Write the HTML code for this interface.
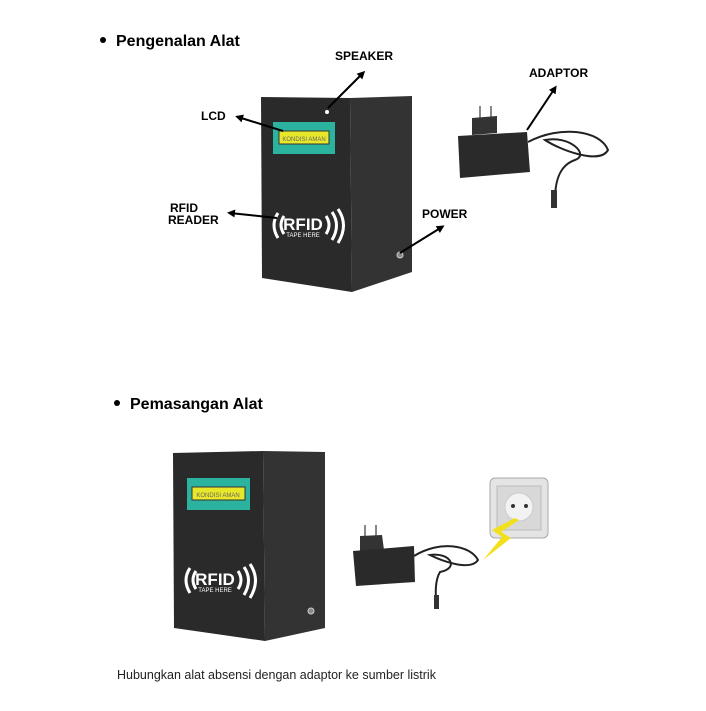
<!DOCTYPE html>
<html><head><style>
body{margin:0;background:#fff;width:706px;height:706px;overflow:hidden;font-family:"Liberation Sans",sans-serif;}
</style></head><body>
<svg width="706" height="706" xmlns="http://www.w3.org/2000/svg" font-family="Liberation Sans, sans-serif">
<defs><marker id="a" markerWidth="8" markerHeight="8" refX="5" refY="4" orient="auto" markerUnits="userSpaceOnUse"><path d="M0,0 L8,4 L0,8 z" fill="#000"/></marker></defs>
<circle cx="103" cy="40" r="3" fill="#000"/>
<text x="116" y="46" font-size="16" font-weight="bold">Pengenalan Alat</text>
<circle cx="117" cy="403" r="3" fill="#000"/>
<text x="130" y="409" font-size="16" font-weight="bold">Pemasangan Alat</text>
<text x="117" y="679" font-size="12.5" fill="#222">Hubungkan alat absensi dengan adaptor ke sumber listrik</text>

<!-- box 1 -->
<polygon points="261,97 350,98 352,292 262,278" fill="#2a2a2a"/>
<polygon points="350,98 412,96 412,272 352,292" fill="#333"/>
<rect x="273" y="122" width="62" height="32" fill="#2bb3a0"/>
<rect x="279" y="131" width="50" height="13" fill="#e8e82a" stroke="#333" stroke-width="1"/>
<text x="304" y="141" font-size="6" text-anchor="middle" fill="#666">KONDISI AMAN</text>
<circle cx="327" cy="112" r="2" fill="#fff"/>
<text x="303" y="230" font-size="17" font-weight="bold" fill="#fff" text-anchor="middle">RFID</text>
<text x="303" y="237" font-size="6" fill="#fff" text-anchor="middle">TAPE HERE</text>
<path d="M278,213 Q270,225 278,238 M284,216 Q278,225 284,234 M326,216 Q332,225 326,234 M332,212 Q341,225 332,240 M338,209 Q349,225 338,243" stroke="#fff" stroke-width="3" fill="none"/>
<circle cx="400" cy="255" r="3" fill="#888" stroke="#ccc"/>
<!-- arrows -->
<text x="335" y="60" font-size="12" font-weight="bold">SPEAKER</text>
<line x1="328" y1="108" x2="363" y2="73" stroke="#000" stroke-width="2" marker-end="url(#a)"/>
<text x="201" y="120" font-size="12" font-weight="bold">LCD</text>
<line x1="283" y1="131" x2="238" y2="117" stroke="#000" stroke-width="2" marker-end="url(#a)"/>
<text x="170" y="212" font-size="12" font-weight="bold">RFID</text>
<text x="168" y="224" font-size="12" font-weight="bold">READER</text>
<line x1="277" y1="218" x2="230" y2="213" stroke="#000" stroke-width="2" marker-end="url(#a)"/>
<text x="422" y="218" font-size="12" font-weight="bold">POWER</text>
<line x1="400" y1="253" x2="442" y2="227" stroke="#000" stroke-width="2" marker-end="url(#a)"/>
<text x="529" y="77" font-size="12" font-weight="bold">ADAPTOR</text>
<line x1="527" y1="130" x2="555" y2="88" stroke="#000" stroke-width="2" marker-end="url(#a)"/>
<!-- adaptor 1 -->
<rect x="479" y="106" width="2" height="12" fill="#888"/><rect x="490" y="106" width="2" height="12" fill="#888"/>
<polygon points="472,118 497,116 497,133 472,135" fill="#333"/>
<polygon points="458,136 527,132 530,172 460,178" fill="#2a2a2a"/>
<path d="M528,142 C560,125 600,130 608,150 C600,165 560,150 545,140 C570,135 590,155 575,160 C560,165 555,180 555,200" stroke="#222" stroke-width="2" fill="none"/>
<rect x="551" y="190" width="6" height="18" fill="#333"/>
<!-- box 2 -->
<polygon points="173,453 263,451 265,641 174,628" fill="#2a2a2a"/>
<polygon points="263,451 325,452 325,628 265,641" fill="#333"/>
<rect x="187" y="478" width="63" height="32" fill="#2bb3a0"/>
<rect x="192" y="487" width="53" height="13" fill="#e8e82a" stroke="#333"/>
<text x="218" y="497" font-size="6" text-anchor="middle" fill="#666">KONDISI AMAN</text>
<text x="215" y="585" font-size="17" font-weight="bold" fill="#fff" text-anchor="middle">RFID</text>
<text x="215" y="592" font-size="6" fill="#fff" text-anchor="middle">TAPE HERE</text>
<path d="M190,568 Q182,580 190,593 M196,571 Q190,580 196,589 M238,571 Q244,580 238,589 M244,567 Q253,580 244,595 M250,564 Q261,580 250,598" stroke="#fff" stroke-width="3" fill="none"/>
<circle cx="311" cy="611" r="3" fill="#888" stroke="#ccc"/>
<!-- adaptor 2 -->
<rect x="364" y="525" width="2" height="12" fill="#888"/><rect x="375" y="525" width="2" height="12" fill="#888"/>
<polygon points="360,536 382,535 384,550 360,551" fill="#333"/>
<polygon points="353,551 414,546 415,582 356,586" fill="#2a2a2a"/>
<path d="M414,556 C440,540 470,545 478,560 C470,572 440,560 430,555 C450,552 460,568 440,572 C435,580 435,595 437,605" stroke="#222" stroke-width="2" fill="none"/>
<rect x="434" y="595" width="5" height="14" fill="#333"/>
<!-- socket -->
<rect x="490" y="478" width="58" height="60" rx="5" fill="#e4e4e4" stroke="#aaa"/>
<rect x="497" y="486" width="44" height="44" fill="#d8d8d8" stroke="#bbb"/>
<circle cx="519" cy="507" r="14" fill="#f2f2f2" stroke="#ccc"/>
<circle cx="513" cy="506" r="2" fill="#333"/><circle cx="526" cy="506" r="2" fill="#333"/>
<polygon points="515,518 492,530 502,537 483,560 511,538 501,532 519,520" fill="#f2e01a"/>
</svg>
</body></html>
